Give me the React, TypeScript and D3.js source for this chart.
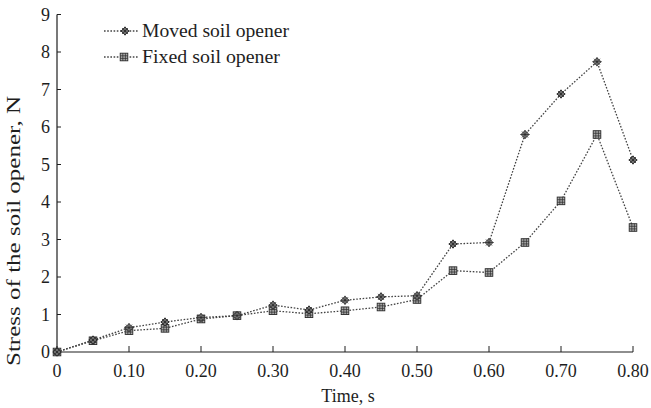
import React from "react";
import * as d3 from "d3";

const times = [0, 0.05, 0.1, 0.15, 0.2, 0.25, 0.3, 0.35, 0.4, 0.45, 0.5, 0.55, 0.6, 0.65, 0.7, 0.75, 0.8];
const moved = [0, 0.32, 0.65, 0.8, 0.92, 0.97, 1.25, 1.12, 1.38, 1.47, 1.5, 2.88, 2.92, 5.8, 6.88, 7.74, 5.12];
const fixed = [0, 0.3, 0.57, 0.63, 0.88, 0.97, 1.1, 1.02, 1.1, 1.2, 1.4, 2.17, 2.12, 2.92, 4.03, 5.8, 3.32];
const xTicks = [0, 0.1, 0.2, 0.3, 0.4, 0.5, 0.6, 0.7, 0.8];
const xTickLabels = ["0", "0.10", "0.20", "0.30", "0.40", "0.50", "0.60", "0.70", "0.80"];
const yTicks = [0, 1, 2, 3, 4, 5, 6, 7, 8, 9];
const seriesNames = ["Moved soil opener", "Fixed soil opener"];

const W = 651;
const H = 408;
const FONT = "'Liberation Serif', 'Times New Roman', serif";
const INK = "#1e1e1e";

const x = d3.scaleLinear().domain([0, 0.8]).range([57, 633]);
const y = d3.scaleLinear().domain([0, 9]).range([352, 14.5]);

function MovedMarker({ cx, cy }: { cx: number; cy: number }) {
  return (
    <g transform={`translate(${cx},${cy})`} stroke="#2a2a2a" fill="none" strokeWidth={0.9}>
      <path d="M0,-4 L4,0 L0,4 L-4,0 Z" fill="#9a9a9a" />
      <path d="M-4.5,0 L4.5,0 M0,-4.5 L0,4.5 M-3,-3 L3,3 M-3,3 L3,-3" strokeWidth={0.8} />
    </g>
  );
}

function FixedMarker({ cx, cy }: { cx: number; cy: number }) {
  return (
    <g transform={`translate(${cx},${cy})`} stroke="#2a2a2a" fill="none" strokeWidth={0.9}>
      <rect x={-3.8} y={-3.8} width={7.6} height={7.6} fill="#aaa" />
      <path d="M-3.8,-1.2 L3.8,-1.2 M-3.8,1.4 L3.8,1.4 M-1.2,-3.8 L-1.2,3.8 M1.4,-3.8 L1.4,3.8" strokeWidth={0.7} />
    </g>
  );
}

export default function App() {
  const line = d3
    .line<number>()
    .x((_, i) => x(times[i]))
    .y((d) => y(d));

  return (
    <svg
      width={W}
      height={H}
      viewBox={`0 0 ${W} ${H}`}
      style={{ position: "absolute", left: 0, top: 0, background: "#fff" }}
    >
      <rect x={0} y={0} width={W} height={H} fill="#fff" />
      {/* axes */}
      <line x1={x(0)} x2={x(0)} y1={y(9)} y2={y(0)} stroke={INK} strokeWidth={1.2} />
      <line x1={x(0)} x2={x(0.8)} y1={y(0)} y2={y(0)} stroke={INK} strokeWidth={1.2} />
      {yTicks.map((t) => (
        <g key={"y" + t}>
          <line x1={x(0)} x2={x(0) + 4} y1={y(t)} y2={y(t)} stroke={INK} strokeWidth={1} />
          <text
            x={50}
            y={y(t)}
            dy="0.35em"
            textAnchor="end"
            fontFamily={FONT}
            fontSize={18}
            fill={INK}
          >
            {t}
          </text>
        </g>
      ))}
      {xTicks.map((t, i) => (
        <g key={"x" + t}>
          <line x1={x(t)} x2={x(t)} y1={y(0)} y2={y(0) - 6} stroke={INK} strokeWidth={1} />
          <text
            x={x(t)}
            y={377}
            textAnchor="middle"
            fontFamily={FONT}
            fontSize={18}
            fill={INK}
          >
            {xTickLabels[i]}
          </text>
        </g>
      ))}
      <text x={348} y={402} textAnchor="middle" fontFamily={FONT} fontSize={18} fill={INK}>
        Time, s
      </text>
      <text
        transform={`translate(20,231) rotate(-90)`}
        textAnchor="middle"
        fontFamily={FONT}
        fontSize={18}
        fill={INK}
        textLength={270}
        lengthAdjust="spacingAndGlyphs"
      >
        Stress of the soil opener, N
      </text>

      {/* lines */}
      <path d={line(fixed) || ""} fill="none" stroke="#444" strokeWidth={1.3} strokeDasharray="1.6 1.6" />
      <path d={line(moved) || ""} fill="none" stroke="#444" strokeWidth={1.3} strokeDasharray="1.6 1.6" />
      {fixed.map((v, i) => (
        <FixedMarker key={"f" + i} cx={x(times[i])} cy={y(v)} />
      ))}
      {moved.map((v, i) => (
        <MovedMarker key={"m" + i} cx={x(times[i])} cy={y(v)} />
      ))}

      {/* legend */}
      <g>
        <line x1={104} x2={138} y1={31} y2={31} stroke="#444" strokeWidth={1.3} strokeDasharray="1.6 1.6" />
        <MovedMarker cx={125} cy={31} />
        <text x={142} y={37} fontFamily={FONT} fontSize={19} fill={INK} textLength={147} lengthAdjust="spacingAndGlyphs">
          {seriesNames[0]}
        </text>
        <line x1={104} x2={138} y1={57} y2={57} stroke="#444" strokeWidth={1.3} strokeDasharray="1.6 1.6" />
        <FixedMarker cx={124} cy={57} />
        <text x={142} y={63} fontFamily={FONT} fontSize={19} fill={INK} textLength={138} lengthAdjust="spacingAndGlyphs">
          {seriesNames[1]}
        </text>
      </g>
    </svg>
  );
}
